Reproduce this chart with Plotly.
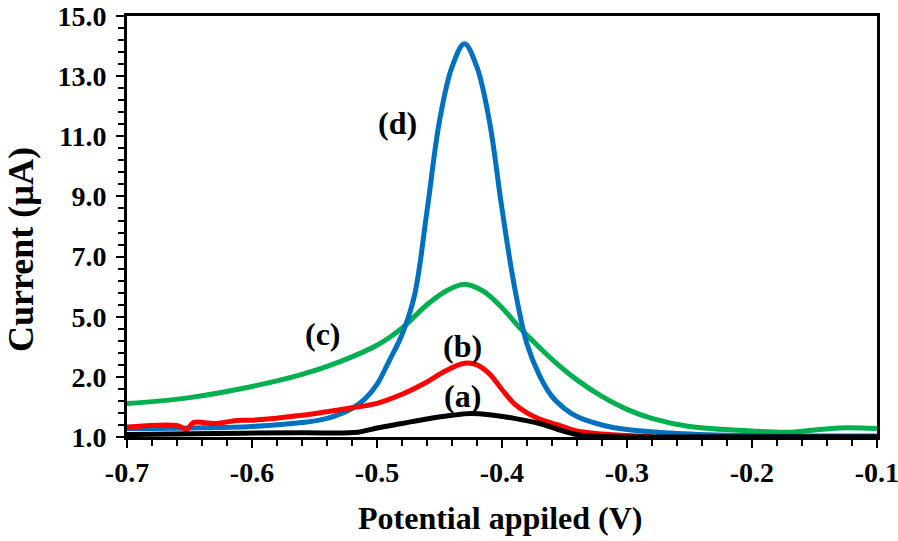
import plotly.graph_objects as go

# Potential (V) and current (uA)
a_x = [-0.70, -0.63, -0.56, -0.515, -0.50, -0.48, -0.46, -0.44, -0.425, -0.41, -0.39, -0.37, -0.355, -0.34, -0.32, -0.20, -0.10]
a_y = [1.08, 1.12, 1.14, 1.16, 1.30, 1.45, 1.60, 1.72, 1.78, 1.74, 1.62, 1.45, 1.25, 1.08, 1.02, 1.01, 1.01]

b_x = [-0.70, -0.66, -0.652, -0.647, -0.63, -0.612, -0.60, -0.56, -0.52, -0.50, -0.48, -0.46,
       -0.445, -0.43, -0.42, -0.41, -0.40, -0.39, -0.38, -0.37, -0.355, -0.34, -0.32, -0.30, -0.28]
b_y = [1.33, 1.38, 1.25, 1.48, 1.45, 1.55, 1.56, 1.72, 1.97, 2.12, 2.42, 2.83,
       3.20, 3.45, 3.40, 3.10, 2.58, 2.10, 1.80, 1.60, 1.40, 1.20, 1.10, 1.05, 1.02]

c_x = [-0.70, -0.65, -0.60, -0.56, -0.53, -0.50, -0.48, -0.46, -0.445, -0.43, -0.415, -0.40,
       -0.385, -0.37, -0.355, -0.34, -0.32, -0.30, -0.28, -0.25, -0.20, -0.17, -0.13, -0.10]
c_y = [2.11, 2.31, 2.68, 3.08, 3.50, 4.05, 4.62, 5.40, 5.85, 6.08, 5.85, 5.30,
       4.60, 3.98, 3.40, 2.90, 2.35, 1.92, 1.62, 1.35, 1.20, 1.16, 1.30, 1.28]

d_x = [-0.70, -0.65, -0.60, -0.56, -0.54, -0.52, -0.51, -0.50, -0.49, -0.48, -0.47, -0.46,
       -0.45, -0.44, -0.43, -0.42, -0.41, -0.40, -0.39, -0.38, -0.37, -0.36, -0.35, -0.34,
       -0.32, -0.30, -0.26, -0.20, -0.10]
d_y = [1.28, 1.30, 1.35, 1.48, 1.62, 1.95, 2.25, 2.75, 3.55, 4.40, 5.70, 8.50,
       11.50, 13.30, 14.08, 13.30, 11.50, 8.60, 6.00, 4.10, 3.05, 2.35, 1.95, 1.68,
       1.40, 1.25, 1.12, 1.05, 1.03]

x_ticks = [-0.7, -0.6, -0.5, -0.4, -0.3, -0.2, -0.1]
x_labels = ["-0.7", "-0.6", "-0.5", "-0.4", "-0.3", "-0.2", "-0.1"]
y_ticks = [1, 3, 5, 7, 9, 11, 13, 15]
y_labels = ["1.0", "2.0", "5.0", "7.0", "9.0", "11.0", "13.0", "15.0"]

curve_labels = ["(d)", "(c)", "(b)", "(a)"]
label_x = [-0.4832, -0.5432, -0.4312, -0.4312]
label_y = [11.46, 4.41, 4.02, 2.38]

FONT = "Liberation Serif"

fig = go.Figure()
for xs, ys, col in [(c_x, c_y, "#00B050"), (d_x, d_y, "#0070C0"),
                    (b_x, b_y, "#FF0000"), (a_x, a_y, "#000000")]:
    fig.add_trace(go.Scatter(x=xs, y=ys, mode="lines",
                             line=dict(color=col, width=5, shape="spline", smoothing=1.0),
                             showlegend=False, hoverinfo="skip"))

for t, lx, ly in zip(curve_labels, label_x, label_y):
    fig.add_annotation(x=lx, y=ly, text="<b>" + t + "</b>", showarrow=False,
                       font=dict(family=FONT, size=32, color="black"))

fig.add_annotation(xref="paper", yref="paper", x=0.497, y=-0.193, xanchor="center", yanchor="middle",
                   text="<b>Potential appiled (V)</b>",
                   showarrow=False, font=dict(family=FONT, size=32, color="black"))
fig.add_annotation(xref="paper", yref="paper", x=-0.1413, y=0.444, xanchor="center", yanchor="middle",
                   text="<b>Current (µA)</b>",
                   textangle=-90, showarrow=False, font=dict(family=FONT, size=36, color="black"))

axis_common = dict(showline=True, linecolor="black", linewidth=3, mirror=True,
                   showgrid=False, zeroline=False, ticks="outside", tickcolor="black",
                   tickwidth=2, ticklen=8, automargin=False, ticklabeloverflow="allow",
                   tickfont=dict(family=FONT, size=28, color="black"))

fig.update_xaxes(range=[-0.7, -0.0999], tickvals=x_ticks, ticktext=["<b>" + s + "</b>" for s in x_labels],
                 minor=dict(dtick=0.02, ticks="outside", ticklen=6, tickwidth=2, tickcolor="black"),
                 ticklabelstandoff=0, **axis_common)
fig.update_yaxes(range=[1, 15.002], tickvals=y_ticks, ticktext=["<b>" + s + "</b>" for s in y_labels],
                 minor=dict(tick0=1, dtick=0.4, ticks="outside", ticklen=6, tickwidth=2, tickcolor="black"),
                 ticklabelstandoff=4, **axis_common)

fig.update_layout(width=898, height=541, margin=dict(l=127, r=21, t=16, b=104),
                  plot_bgcolor="white", paper_bgcolor="white")

fig.write_html("out.html", config={"displayModeBar": False},
               post_script="document.body.style.margin='0px';document.body.style.overflow='hidden';")
